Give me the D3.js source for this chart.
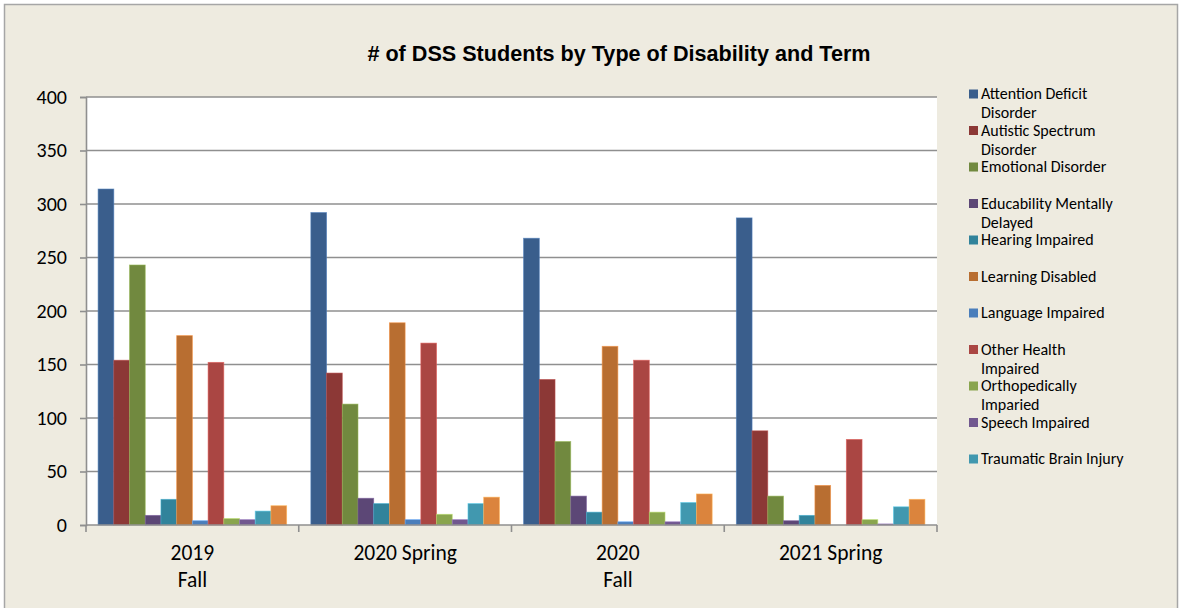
<!DOCTYPE html>
<html>
<head>
<meta charset="utf-8">
<script src="https://cdn.jsdelivr.net/npm/d3@7"></script>
<style>
  body { margin: 0; background: #fff; }
  svg { display: block; }
</style>
</head>
<body>
<div id="chart"></div>
<script>
// terms on the x axis (second line shown under the first)
var terms = [["2019", "Fall"], ["2020 Spring"], ["2020", "Fall"], ["2021 Spring"]];

var seriesNames = [
    "Attention Deficit Disorder",
    "Autistic Spectrum Disorder",
    "Emotional Disorder",
    "Educability Mentally Delayed",
    "Hearing Impaired",
    "Learning Disabled",
    "Language Impaired",
    "Other Health Impaired",
    "Orthopedically Imparied",
    "Speech Impaired",
    "Traumatic Brain Injury",
    "Visually Impaired"
];

// legend lines as they wrap in the picture
var legendLines = [
    ["Attention Deficit", "Disorder"],
    ["Autistic Spectrum", "Disorder"],
    ["Emotional Disorder"],
    ["Educability Mentally", "Delayed"],
    ["Hearing Impaired"],
    ["Learning Disabled"],
    ["Language Impaired"],
    ["Other Health", "Impaired"],
    ["Orthopedically", "Imparied"],
    ["Speech Impaired"],
    ["Traumatic Brain Injury"]
];

// one array per term, values in series order
var fall2019   = [314, 154, 243, 9, 24, 177, 4, 152, 6, 5, 13, 18];
var spring2020 = [292, 142, 113, 25, 20, 189, 5, 170, 10, 5, 20, 26];
var fall2020   = [268, 136, 78, 27, 12, 167, 3, 154, 12, 3, 21, 29];
var spring2021 = [287, 88, 27, 4, 9, 37, 0, 80, 5, 1, 17, 24];

var yTicks = [0, 50, 100, 150, 200, 250, 300, 350, 400];

var colors = ["#3a5e8c", "#8c3836", "#71893f", "#5c4776", "#31839b", "#b86e31",
              "#4a7ebb", "#aa4643", "#89a54e", "#71588f", "#4198af", "#db843d"];

var termValues = [fall2019, spring2020, fall2020, spring2021];

var width = 1180, height = 608;
var plot = { left: 86, right: 937, top: 97, bottom: 525 };
var labelFont = "Carlito, Lato, sans-serif";

var svg = d3.select("#chart").append("svg")
    .attr("width", width)
    .attr("height", height);

// chart background and border
svg.append("rect")
    .attr("x", 4.5).attr("y", 4.5)
    .attr("width", 1173).attr("height", 610)
    .attr("fill", "#eeebe0")
    .attr("stroke", "#a6a6a6")
    .attr("stroke-width", 1.5);

svg.append("rect")
    .attr("x", plot.left).attr("y", plot.top)
    .attr("width", plot.right - plot.left)
    .attr("height", plot.bottom - plot.top)
    .attr("fill", "#ffffff");

var x0 = d3.scaleBand()
    .domain(d3.range(terms.length))
    .range([plot.left, plot.right])
    .padding(0);

var x1 = d3.scaleBand()
    .domain(d3.range(seriesNames.length))
    .range([0, x0.bandwidth()])
    .paddingInner(0)
    .paddingOuter(0.77);

var y = d3.scaleLinear()
    .domain([0, 400])
    .range([plot.bottom, plot.top]);

// gridlines
svg.append("g")
    .selectAll("line")
    .data(yTicks.slice(1))
    .enter().append("line")
    .attr("x1", plot.left)
    .attr("x2", plot.right)
    .attr("y1", function(d) { return y(d); })
    .attr("y2", function(d) { return y(d); })
    .attr("stroke", "#8f8f8f")
    .attr("stroke-width", 1.6);

// bars
var groups = svg.append("g")
    .selectAll("g")
    .data(termValues)
    .enter().append("g")
    .attr("transform", function(d, i) { return "translate(" + x0(i) + ",0)"; });

groups.selectAll("rect")
    .data(function(d) { return d; })
    .enter().append("rect")
    .attr("x", function(d, i) { return x1(i); })
    .attr("y", function(d) { return y(d); })
    .attr("width", x1.bandwidth())
    .attr("height", function(d) { return y(0) - y(d); })
    .attr("fill", function(d, i) { return colors[i]; })
    .attr("stroke", function(d, i) { return d3.color(colors[i]).brighter(0.8); })
    .attr("stroke-width", 0.8)
    .attr("stroke-opacity", 0.7);

// y axis
var yAxis = d3.axisLeft(y)
    .tickValues(yTicks)
    .tickSize(6)
    .tickPadding(13);

var yg = svg.append("g")
    .attr("transform", "translate(" + plot.left + ",0)")
    .call(yAxis);
yg.select(".domain").attr("stroke", "#8f8f8f").attr("stroke-width", 1.6);
yg.selectAll(".tick line").attr("stroke", "#8f8f8f").attr("stroke-width", 1.6);
yg.selectAll("text")
    .attr("font-family", labelFont)
    .attr("font-size", 20)
    .attr("fill", "#000");

// x axis with ticks at group boundaries
var xg = svg.append("g");
xg.append("line")
    .attr("x1", plot.left).attr("x2", plot.right)
    .attr("y1", plot.bottom).attr("y2", plot.bottom)
    .attr("stroke", "#8f8f8f").attr("stroke-width", 1.6);
xg.selectAll(".xt")
    .data(d3.range(terms.length + 1))
    .enter().append("line")
    .attr("class", "xt")
    .attr("x1", function(d) { return plot.left + d * x0.step(); })
    .attr("x2", function(d) { return plot.left + d * x0.step(); })
    .attr("y1", plot.bottom)
    .attr("y2", plot.bottom + 7)
    .attr("stroke", "#8f8f8f").attr("stroke-width", 1.6);

var xl = xg.selectAll(".xl")
    .data(terms)
    .enter().append("text")
    .attr("class", "xl")
    .attr("x", function(d, i) { return x0(i) + x0.bandwidth() / 2; })
    .attr("y", 560)
    .attr("text-anchor", "middle")
    .attr("font-family", labelFont)
    .attr("font-size", 21.5)
    .attr("fill", "#000");
xl.selectAll("tspan")
    .data(function(d) { return d; })
    .enter().append("tspan")
    .attr("x", function() { return d3.select(this.parentNode).attr("x"); })
    .attr("dy", function(d, i) { return i === 0 ? 0 : 27; })
    .text(function(d) { return d; });

// title
svg.append("text")
    .attr("x", 619)
    .attr("y", 61)
    .attr("text-anchor", "middle")
    .style("font-family", "'Liberation Sans', Arial, Helvetica, sans-serif")
    .style("font-weight", "bold")
    .style("font-size", "21.6px")
    .attr("fill", "#000")
    .text("# of DSS Students by Type of Disability and Term");

// legend
var legend = svg.append("g")
    .selectAll("g")
    .data(legendLines)
    .enter().append("g")
    .attr("transform", function(d, i) { return "translate(969," + (94 + i * 36.5) + ")"; });

legend.append("rect")
    .attr("x", 0).attr("y", -4.5)
    .attr("width", 9).attr("height", 9)
    .attr("fill", function(d, i) { return colors[i]; });

var lt = legend.append("text")
    .attr("x", 12)
    .attr("y", 5)
    .attr("font-family", labelFont)
    .attr("font-size", 16)
    .attr("fill", "#000");
lt.selectAll("tspan")
    .data(function(d) { return d; })
    .enter().append("tspan")
    .attr("x", 12)
    .attr("dy", function(d, i) { return i === 0 ? 0 : 19; })
    .text(function(d) { return d; });
</script>
</body>
</html>
